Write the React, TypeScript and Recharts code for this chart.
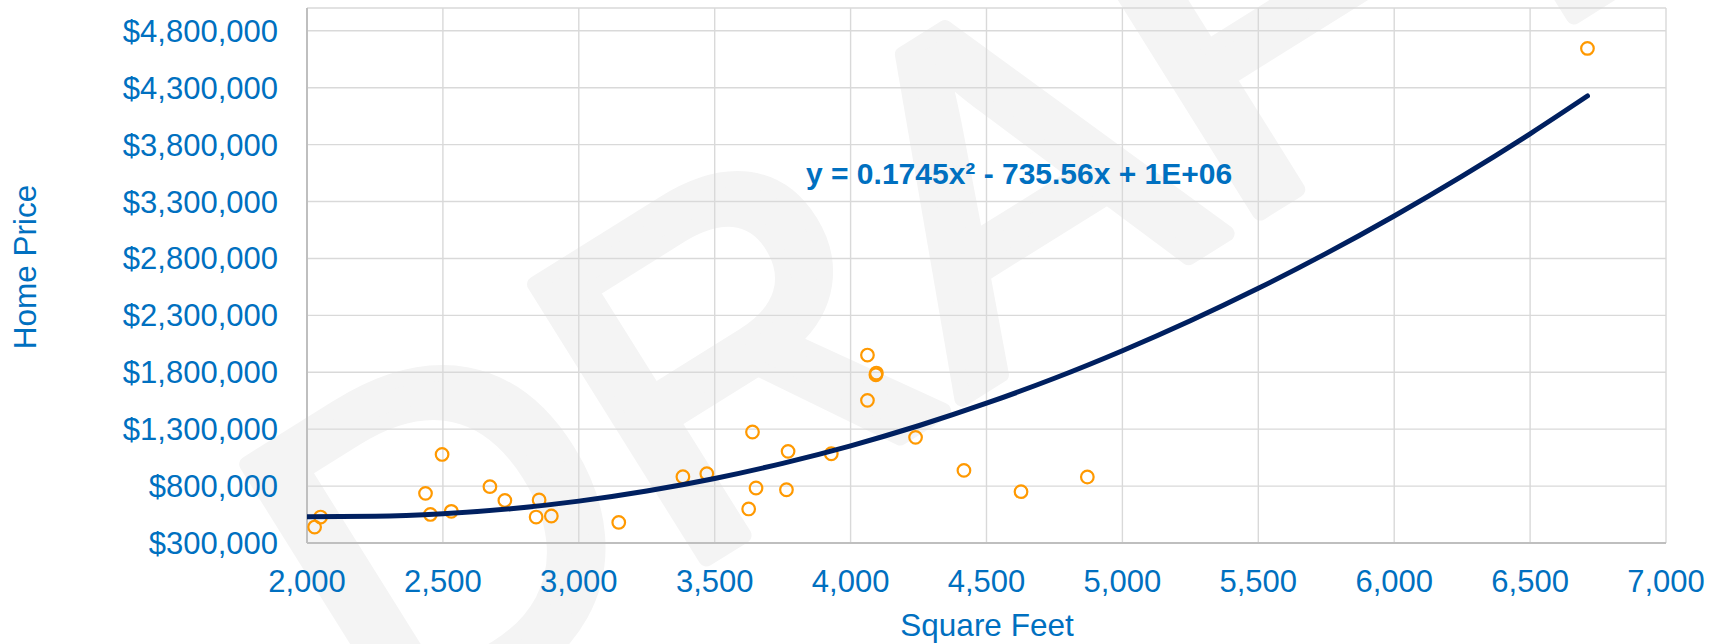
import { CartesianGrid, Scatter, ScatterChart, XAxis, YAxis } from "recharts";

// Square feet / home price pairs
const squareFeet = [
  2028, 2050, 2436, 2454, 2497, 2531, 2673, 2728, 2843, 2854, 2899, 3147, 3383,
  3471, 3625, 3639, 3652, 3764, 3770, 3929, 4062, 4062, 4093, 4095, 4239, 4417,
  4627, 4871, 6711,
];
const homePrice = [
  440000, 528000, 736000, 551000, 1078000, 578000, 795000, 674000, 528000,
  678000, 537000, 481000, 882000, 909000, 599000, 1275000, 783000, 768000,
  1105000, 1084000, 1951000, 1553000, 1778000, 1793000, 1228000, 938000, 751000,
  880000, 4645000,
];

// Polynomial trendline
const trendSqft = [
  2000, 2250, 2500, 2750, 3000, 3250, 3500, 3750, 4000, 4250, 4500, 4750, 5000,
  5250, 5500, 5750, 6000, 6250, 6500, 6711,
];
const trendPrice = [
  531000, 534000, 556000, 601000, 668000, 757000, 867000, 1000000, 1154000,
  1330000, 1528000, 1747000, 1989000, 2252000, 2537000, 2844000, 3173000,
  3523000, 3895000, 4227000,
];

const xTicks = [2000, 2500, 3000, 3500, 4000, 4500, 5000, 5500, 6000, 6500, 7000];
const yTicks = [
  300000, 800000, 1300000, 1800000, 2300000, 2800000, 3300000, 3800000, 4300000,
  4800000,
];

const equation = "y = 0.1745x² - 735.56x + 1E+06";

const BLUE = "#0070C0";
const FONT = "'Liberation Sans', Arial, sans-serif";
const WIDTH = 1721;
const HEIGHT = 644;

const points = squareFeet.map((x, i) => ({ x, y: homePrice[i] }));
const trend = trendSqft.map((x, i) => ({ x, y: trendPrice[i] }));

const tickStyle = { fill: BLUE, fontSize: 31, fontFamily: FONT };

const OpenCircle = (props: any) => (
  <circle
    cx={props.cx}
    cy={props.cy}
    r={6.3}
    fill="none"
    stroke="#FF9900"
    strokeWidth={2.2}
  />
);

export default function App() {
  return (
    <div style={{ position: "relative", width: WIDTH, height: HEIGHT, background: "#fff" }}>
      <style>{`body{margin:0}`}</style>

      {/* page watermark behind the chart */}
      <svg
        width={WIDTH}
        height={HEIGHT}
        style={{ position: "absolute", left: 0, top: 0 }}
      >
        <text
          x={964}
          y={206}
          transform="rotate(-32 964 206)"
          textAnchor="middle"
          dominantBaseline="central"
          fontFamily={FONT}
          fontSize={470}
          fill="#F4F4F4"
          stroke="#F4F4F4"
          strokeWidth={16}
          strokeLinejoin="round"
        >
          DRAFT
        </text>
      </svg>

      <div style={{ position: "absolute", left: 0, top: 0 }}>
        <ScatterChart
          width={WIDTH}
          height={HEIGHT}
          margin={{ top: 8, right: 55, bottom: 0, left: 0 }}
        >
          <CartesianGrid stroke="#D9D9D9" strokeWidth={1.4} />
          <XAxis
            type="number"
            dataKey="x"
            domain={[2000, 7000]}
            ticks={xTicks}
            interval={0}
            allowDataOverflow
            height={101}
            tickSize={0}
            tickMargin={27}
            tick={tickStyle}
            axisLine={{ stroke: "#BFBFBF", strokeWidth: 2 }}
            tickFormatter={(v: number) => v.toLocaleString("en-US")}
          />
          <YAxis
            type="number"
            dataKey="y"
            domain={[300000, 5000000]}
            ticks={yTicks}
            interval={0}
            allowDataOverflow
            width={307}
            tickSize={0}
            tickMargin={29}
            tick={tickStyle}
            axisLine={{ stroke: "#BFBFBF", strokeWidth: 2 }}
            tickFormatter={(v: number) => "$" + v.toLocaleString("en-US")}
          />
          <Scatter
            data={points}
            shape={OpenCircle}
            isAnimationActive={false}
          />
          <Scatter
            data={trend}
            line={{ stroke: "#002060", strokeWidth: 5, strokeLinecap: "round" }}
            lineType="joint"
            lineJointType="monotoneX"
            shape={() => <g />}
            isAnimationActive={false}
          />
        </ScatterChart>
      </div>

      {/* axis titles and trendline label */}
      <svg
        width={WIDTH}
        height={HEIGHT}
        style={{ position: "absolute", left: 0, top: 0, pointerEvents: "none" }}
      >
        <text
          x={36}
          y={267}
          transform="rotate(-90 36 267)"
          textAnchor="middle"
          fontFamily={FONT}
          fontSize={31.5}
          fill={BLUE}
        >
          Home Price
        </text>
        <text
          x={987}
          y={636}
          textAnchor="middle"
          fontFamily={FONT}
          fontSize={31.5}
          fill={BLUE}
        >
          Square Feet
        </text>
        <text
          x={806}
          y={184}
          fontFamily={FONT}
          fontWeight="bold"
          fontSize={30}
          fill={BLUE}
        >
          {equation}
        </text>
      </svg>
    </div>
  );
}
